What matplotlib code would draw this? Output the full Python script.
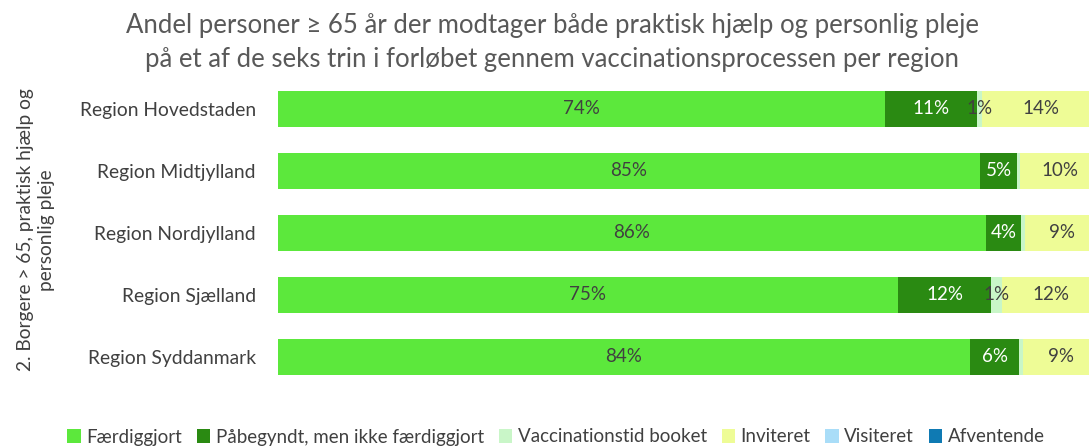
import matplotlib
matplotlib.use("Agg")
import matplotlib.pyplot as plt
import numpy as np

plt.rcParams['font.family'] = ['Lato', 'DejaVu Sans']

regions = ["Region Hovedstaden", "Region Midtjylland", "Region Nordjylland",
           "Region Sjælland", "Region Syddanmark"]
series_names = ["Færdiggjort", "Påbegyndt, men ikke færdiggjort", "Vaccinationstid booket",
                "Inviteret", "Visiteret", "Afventende"]
faerdiggjort = [73.8, 85.4, 86.1, 75.4, 84.2]
paabegyndt = [11.2, 4.5, 4.3, 11.4, 6.0]
booket = [0.6, 0.4, 0.5, 1.3, 0.4]
inviteret = [14.4, 9.7, 9.0, 11.9, 9.4]
visiteret = [0.0, 0.0, 0.1, 0.0, 0.0]
afventende = [0.0, 0.0, 0.0, 0.0, 0.0]
# labels shown in the chart (None = no label)
lab_faerdig = ["74%", "85%", "86%", "75%", "84%"]
lab_paabeg = ["11%", "5%", "4%", "12%", "6%"]
lab_booket = ["1%", None, None, "1%", None]
lab_invit = ["14%", "10%", "9%", "12%", "9%"]

colors = ["#5CE83C", "#2A8A12", "#C9F6C8", "#EEFC96", "#A9DDF8", "#0F7AB3"]
label_colors = ["#404040", "white", "#404040", "#404040", "#404040", "#404040"]

fig = plt.figure(figsize=(10.89, 4.47), dpi=100)
ax = fig.add_axes([278/1089, 1-388/447, (1100-278)/1089, 310/447])

data = [faerdiggjort, paabegyndt, booket, inviteret, visiteret, afventende]
labels = [lab_faerdig, lab_paabeg, lab_booket, lab_invit, [None]*5, [None]*5]
y = np.arange(len(regions))
left = np.zeros(len(regions))
for vals, c, name, labs, lc in zip(data, colors, series_names, labels, label_colors):
    vals = np.array(vals)
    bars = ax.barh(y, vals, left=left, height=0.58, color=c, label=name)
    for yi, l, v, t in zip(y, left, vals, labs):
        if t is not None:
            ax.text(l + v/2, yi, t, ha='center', va='center', fontsize=13.5, color=lc)
    left = left + vals

ax.set_xlim(0, 100)
ax.set_ylim(4.5, -0.5)
ax.set_yticks(y)
ax.set_yticklabels(regions, fontsize=13.9, color="#404040")
ax.tick_params(axis='y', length=0, pad=16)
ax.set_xticks([])
for s in ax.spines.values():
    s.set_visible(False)

fig.text(552/1089, 1-42/447,
         "Andel personer ≥ 65 år der modtager både praktisk hjælp og personlig pleje\npå et af de seks trin i forløbet gennem vaccinationsprocessen per region",
         ha='center', va='center', fontsize=18.5, color="#595959", linespacing=1.45)

fig.text(36/1089, 1-230/447, "2. Borgere > 65, praktisk hjælp og\npersonlig pleje",
         rotation=90, ha='center', va='center', fontsize=13.8, color="#404040",
         multialignment='center', linespacing=1.3)

handles, leg_labels = ax.get_legend_handles_labels()
fig.legend(handles, leg_labels, loc='center', bbox_to_anchor=(556/1089, 1-437/447),
           ncol=6, frameon=False, fontsize=13.5, handlelength=0.7, handleheight=0.7,
           handletextpad=0.3, columnspacing=0.8, labelcolor="#404040")

fig.savefig("out.png", dpi=100)
